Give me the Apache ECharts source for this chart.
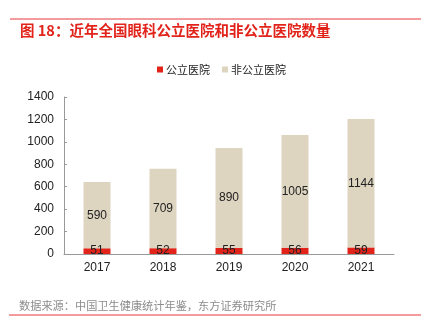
<!DOCTYPE html>
<html><head><meta charset="utf-8">
<script src="https://cdn.jsdelivr.net/npm/echarts@6/dist/echarts.min.js"></script>
<style>html,body{margin:0;padding:0;background:#fff;}#c{width:424px;height:331px;}</style>
</head><body><div id="c"></div>
<script>
const years = ['2017','2018','2019','2020','2021'];
const publicHosp = [51, 52, 55, 56, 59];
const nonPublicHosp = [590, 709, 890, 1005, 1144];
const yTicks = [0, 200, 400, 600, 800, 1000, 1200, 1400];

const chart = echarts.init(document.getElementById('c'), null, {renderer:'canvas'});
const font = '"Noto Sans CJK SC", sans-serif';
chart.setOption({
  animation: false,
  textStyle: {fontFamily: font},
  graphic: [
    {type:'line', shape:{x1:10,y1:19,x2:421,y2:19}, style:{stroke:'#e8393a', lineWidth:1}},
    {type:'text', left:20, top:23, style:{text:'图 18：近年全国眼科公立医院和非公立医院数量', fill:'#e2231a', font:'bold 14.5px "Noto Sans CJK SC", sans-serif'}},
    {type:'text', left:19, top:300, style:{text:'数据来源：中国卫生健康统计年鉴，东方证券研究所', fill:'#8c8c8c', font:'11.2px "Noto Sans CJK SC", sans-serif'}},
    {type:'line', shape:{x1:9,y1:315,x2:421,y2:315}, style:{stroke:'#e8393a', lineWidth:1}}
  ],
  legend: {
    top: 59, left: 152, itemWidth: 6, itemHeight: 6, itemGap: 12,
    icon: 'rect',
    textStyle: {fontSize: 11, color: '#222', fontFamily: font, padding: [0,0,0,-2]},
    data: ['公立医院', '非公立医院']
  },
  grid: {left: 64, right: 30, top: 97, bottom: 77, containLabel: false},
  xAxis: {
    type: 'category', data: years,
    axisLine: {lineStyle: {color: '#999'}},
    axisTick: {inside: true, length: 3, lineStyle: {color: '#999'}},
    axisLabel: {color: '#222', fontSize: 12, margin: 8, fontFamily: 'Liberation Sans, Arial, sans-serif'}
  },
  yAxis: {
    type: 'value', min: 0, max: 1400, interval: 200,
    splitLine: {show: false},
    axisLine: {show: true, lineStyle: {color: '#999'}},
    axisTick: {show: true, inside: true, length: 3, lineStyle: {color: '#999'}},
    axisLabel: {color: '#222', fontSize: 12, margin: 10, fontFamily: 'Liberation Sans, Arial, sans-serif',
      formatter: v => yTicks.includes(v) ? String(v) : ''}
  },
  series: [
    {name: '公立医院', type: 'bar', stack: 'a', data: publicHosp, barWidth: 27,
     itemStyle: {color: '#e2231a'},
     label: {show: true, position: 'inside', color: '#222', fontSize: 12, fontFamily: 'Liberation Sans, Arial, sans-serif'}},
    {name: '非公立医院', type: 'bar', stack: 'a', data: nonPublicHosp, barWidth: 27,
     itemStyle: {color: '#ddd5c0'},
     label: {show: true, position: 'inside', color: '#222', fontSize: 12, fontFamily: 'Liberation Sans, Arial, sans-serif'}}
  ]
});
</script></body></html>
